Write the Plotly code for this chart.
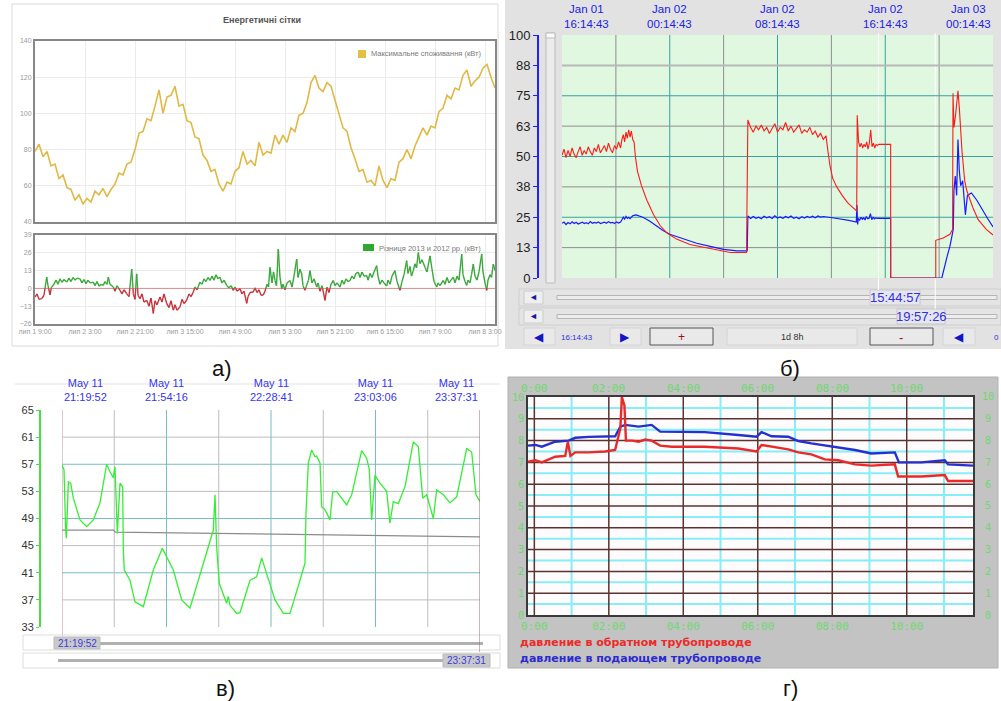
import numpy as np
import plotly.graph_objects as go

W, H = 1001, 701
def X(p): return p / W
def Y(p): return 1 - p / H

# ================= DATA =================
# --- panel а (upper): maximal consumption, time in hours from start
a_cons = [79,83,76,79,71,72,64,66,59,58,52,55,50,53,51,57,55,58.5,54,58,
          61,67,66,72,73,80,89,90,97,96,104,113,100,109,110,115,104,105,96,95,
          87,86,77,74,68,69,61,57,62,61,68,70,79,72,74,71,84,77,79,78,
          88,83,88,84,92,90,99,100,106,117,121,114,112,117,115,107,100,92,90,81,
          75,68,69,62,63,60,71,63,59,64,63,73,75,80,75,82,87,92,88,93,
          92,101,103,110,108,114,113,121,124,115,118,120,125,127,120,114]
a_span = 165.6
a_tick_hours = [0, 18, 36, 54, 72, 90, 108, 126, 144, 162]
a_tick_labels = ["лип 1 9:00", "лип 2 3:00", "лип 2 21:00", "лип 3 15:00", "лип 4 9:00",
                 "лип 5 3:00", "лип 5 21:00", "лип 6 15:00", "лип 7 9:00", "лип 8 3:00"]
a_top_ticks = [40, 60, 80, 100, 120, 140]
# --- panel а (lower): difference 2013 vs 2012 (hours, kW)
a_diff_t = [0,0.72,1.44,2.41,3.24,4.21,4.68,5.4,5.94,6.59,7.56,8.28,9,9.72,10.44,11.41,12.24,
            12.96,13.68,14.4,15.12,16.2,16.92,17.64,18.36,19.08,19.8,20.99,21.6,22.32,23.04,
            23.76,24.59,25.2,25.92,26.39,27,28.19,28.8,29.52,30.6,31.32,32.04,33.01,33.84,
            34.81,35.39,36,36.61,37.08,37.8,38.52,39.24,40.21,41.04,41.76,42.59,43.2,43.92,
            45,45.72,46.44,47.41,48.24,48.96,49.79,50.4,51.12,52.2,52.92,53.64,54.61,55.44,
            56.16,56.99,57.6,58.32,59.4,60.12,60.84,61.56,62.28,63,63.72,64.44,65.16,65.88,
            66.6,67.32,68.04,69.01,69.84,70.56,71.39,72,72.72,73.8,74.52,75.24,76.21,76.68,
            77.4,78.59,79.2,79.92,80.64,81.36,82.19,82.8,83.52,84.06,84.6,85.32,85.86,86.4,
            86.94,87.59,88.2,88.81,89.28,90,90.72,91.8,92.52,93.24,94.21,94.68,95.4,96.01,
            96.48,97.2,97.92,98.46,99,99.72,100.44,101.41,101.88,102.6,103.32,104.4,105.12,
            105.84,106.56,107.39,108,108.72,109.8,110.52,111.24,111.96,112.68,113.4,114.12,
            114.84,115.56,116.39,117,117.72,118.44,119.41,119.88,120.6,121.32,122.04,123.01,
            123.48,124.2,124.92,125.64,126.61,127.08,127.8,128.52,129.6,130.32,131.4,132.12,
            132.84,133.81,134.28,135,135.54,136.19,136.8,137.34,137.99,138.6,139.32,140.4,
            141.12,142.2,142.92,143.64,144.61,145.08,145.8,146.99,147.6,148.32,149.04,149.76,
            150.59,151.2,151.92,152.64,153.61,154.08,154.8,155.41,155.88,156.6,157.14,157.79,
            158.4,159.12,159.84,160.81,161.28,162,162.61,163.08,163.8,164.34,164.99,165.6]
a_diff_v = [-6.3,-4,-8,-7.5,-5,8.2,2,-4.8,1,2.2,6,3,7,4.5,6.5,4.6,7.5,
            5,8,6,7.5,7,4,6.5,3.5,6,4,4.6,2,5,1.5,
            3,2.2,5,3,8.2,3,1,-2,2,-1.4,-4,-1,-3.8,-6,
            14.2,-3.8,-8,10.6,-5,-7.5,-4,-10,-8.7,-13,-7,-18.3,-9,-12,
            -6.3,-10,-4,-11,-14,-9,-15.9,-12,-16,-13.5,-8,-11,-8.7,-4,
            -6,-2.6,1,-1,4.6,3,7,5,8,5.8,9,6,10,7,
            8.2,4,6,2.2,0.5,2,-1.4,1,-2,-0.2,-4,-2,-11,-6,
            -3,-2.6,0.5,-3,-1,-5,-4.8,-2,3,1,15.4,4,12,5.8,
            2,28.7,8,-0.2,3,-1,4,5.8,1,9,21.4,8,14,10.6,
            2,-1.4,3,6,13,4,7,1,4,-2,2,-8.7,1,
            -3,3,5.8,2,4,1,6,3,7,5,5.8,9,
            7,11,11.8,8,12,9,9.4,6,11,8,12,16.6,
            9,3,6,4,1.8,6,3,9,13,5,-1.4,5,
            10,20.2,11,16,9,13,18,15,26.2,18,21,15.4,
            12,23.8,14,5,1,4,2,5.8,3,8,4,6,
            8.2,4,9,6,25,10,5,2.2,6,4,10,17.8,
            9,6,12,25,12,4,-1.4,6,10,8,17.8,13]
a_diff_ticks = [-26, -13, 0, 13, 26, 39]

# --- panel б: hours from Jan 01 16:14:43 (32 h window)
b_red_seg1 = [50.5,53,49.5,52.5,50,53.5,51,49.5,52,54,50.5,52.5,51,54,52,50.5,53.5,52,55,51.5,
              53,54.5,52,55.5,53,51.5,54.5,53,56,53.5]
b_red_seg2 = [57,59,56,60,57.5,61,58,60.5,57]
b_red_decay_t = [5.35,5.45,5.6,5.9,6.3,6.8,7.3,7.8,8.5,9.5,10.5,11.5,12.5,13.7]
b_red_decay_v = [56,50,44,38,32,26,21.5,18.5,16,13.8,12.6,11.5,10.5,10.5]
b_red_seg3 = [65,62,60,62.5,61,63,60.5,62,59.5,61.5,63.5,60,62,61,64,60.5,62.5,60,61.5,63,
              59.5,61,60,62,59,60.5,58,59.5,57,58.5]
b_red_decay2_t = [19.75,19.9,20.1,20.4,20.8,21.2,21.6,21.88]
b_red_decay2_v = [52,46,41,37.5,34,31,29,27.5]
b_red_seg4 = [67,56,54,55.5,53.5,55,54,56,53,55.5,61,54,55.5,53.5,55,54.5]
b_red_tail_t = [23.5,24.4,24.4,27.75,27.75,28.3,28.8,29.0,29.03,29.1,29.2,29.4,29.5,29.7,29.9,
                30.05,30.5,30.9,31.5,32.0]
b_red_tail_v = [55,55,0,0,15.5,16.5,18,20,76,62,66,77,70,52,40,36,29,24,20,17.7]

b_blue_seg1 = [22.5,23,22,22.8,22.3,23.1,22.4,22.9,22.2,22.7,23,22.4,22.8,22.3,23.2,22.5,22.9,
               22.6,23.1,22.4,22.8,23,22.5,23.2,22.7,22.9,22.4,23.1,22.6,23]
b_blue_seg2 = [24,25,24.2,25.3,24.5,25,24.4,25.2,25.6]
b_blue_decay_t = [5.35,5.5,6.0,6.5,7.0,7.5,8.0,9.0,10.0,11.0,12.0,13.0,13.75]
b_blue_decay_v = [25.8,26,25,23.5,21.5,19.5,18,16,14.3,13,11.8,11.2,11.2]
b_blue_seg3 = [25.5,24.5,25.3,24.6,25,24.4,25.4,24.8,25.2,24.5,25.6,24.7,25.1,24.6,25.3,24.8,
               25.5,24.6,25,24.4,25.2,24.7,25.3,24.9,25.4,24.8,25.5,25.1,25.3,25]
b_blue_mid_t = [19.8,20.3,20.8,21.3,21.85,21.9,21.95]
b_blue_mid_v = [25,24.6,24.2,23.7,23,30,22]
b_blue_seg4 = [24.5,23.8,25,24.2,24.8,23.9,25.3,24.4,24.6,26.5,24,25,24.3,24.8,24.5,24.6]
b_blue_tail_t = [23.6,24.4,24.4,28.2,28.4,28.6,28.8,29.0,29.05,29.1,29.2,29.3,29.4,29.5,29.6,
                 29.75,29.95,30.1,30.4,30.8,31.2,31.6,32.0]
b_blue_tail_v = [24.5,24.5,0,0,5,9,13,18,20,36,42,34,57,44,38,40,26,34,35,32,28,24.5,21]
b_ytick_vals = [0, 12.5, 25, 37.5, 50, 62.5, 75, 87.5, 100]
b_ytick_text = ["0", "13", "25", "38", "50", "63", "75", "88", "100"]
b_top_hours = [0, 8, 16, 24, 32]
b_top_labels = ["Jan 01<br>16:14:43", "Jan 02<br>00:14:43", "Jan 02<br>08:14:43",
                "Jan 02<br>16:14:43", "Jan 03<br>00:14:43"]
b_cursor_hours = [23.5, 27.71]

# --- panel в: minutes from 21:19:52
c_t = [0,0.66,1.21,1.43,2.09,2.85,3.73,5.93,8.12,10.32,12.51,14.71,15.81,16.9,17.45,18.22,19.1,
       19.98,20.2,20.5,22.39,24.04,26.78,30.07,33.04,36.66,39.41,42.15,45.44,49.83,50.38,50.93,
       51.81,54.22,54.77,55.32,57.52,58.62,61.91,64.1,65.75,67.4,70.14,72.88,75.08,78.37,80.02,
       80.35,81.12,82.22,83.31,83.86,84.96,85.51,86.6,88.25,89.13,90.45,93.74,95.39,98.68,
       100.33,101.2,101.97,103.07,104.71,106.91,108.01,109.1,110.75,112.95,115.69,117.34,
       118.77,120.09,122.28,123.38,125.58,127.77,129.97,133.26,134.91,136.33,137.65]
c_v = [56.9,56.2,47.3,46.1,54.4,54.2,52,48.8,47.8,48.8,51.3,57,55.9,55,56.6,46.8,54.2,
       53.7,44.3,41.4,39.9,36.7,36,41.4,44.6,41.4,37,35.8,40.7,47.3,52.5,44.8,
       39.4,36.5,37.5,36.2,35,35.1,39.9,40.4,43.2,40.9,37,35,35,39.9,42.4,
       49.8,57.2,59.1,58.1,58.2,57.2,50.7,50.3,48.8,52.9,53,51,52.5,59,
       57.9,56.2,48.8,55.4,54.2,53,48.3,51.5,51.2,53.7,60.3,59.6,
       52,52.5,49,53.2,52.5,51.3,52.2,59.3,58.8,52.5,51.5]
c_ref_t = [0, 17, 17.5, 137.65]
c_ref_v = [47.3, 47.3, 47.0, 46.3]
c_span = 137.65
c_top_min = [0, 34.41, 68.83, 103.24, 137.65]
c_top_labels = ["May 11<br>21:19:52", "May 11<br>21:54:16", "May 11<br>22:28:41",
                "May 11<br>23:03:06", "May 11<br>23:37:31"]
c_yticks = [33, 37, 41, 45, 49, 53, 57, 61, 65]

# --- panel г: hours
d_red_t = [-0.17,0.03,0.2,0.56,0.83,0.9,0.97,1.1,1.46,1.9,2.17,2.31,2.35,2.42,2.46,2.62,2.8,
           2.98,3.15,3.38,3.69,4.58,5.48,5.97,6.1,6.37,6.82,7.09,7.44,7.8,8.16,8.61,9.05,
           9.68,9.77,10.39,11.02,11.11,11.78]
d_red_v = [7.03,7.1,7.0,7.26,7.3,7.95,7.3,7.46,7.46,7.5,7.57,8.56,10,9.6,8.0,8.0,7.95,8.05,
           8.0,7.77,7.72,7.72,7.64,7.5,7.8,7.72,7.6,7.46,7.37,7.14,7.1,6.91,6.85,6.91,6.35,
           6.35,6.42,6.15,6.15]
d_blue_t = [-0.17,0.03,0.2,0.56,0.92,1.1,1.46,2.17,2.31,2.44,2.8,3.15,3.38,4.58,5.48,5.97,6.1,
            6.37,6.82,7.09,7.44,7.8,8.16,8.61,9.05,9.68,9.79,10.39,11.02,11.11,11.78]
d_blue_v = [7.77,7.8,7.72,7.95,8.0,8.13,8.17,8.2,8.64,8.72,8.64,8.72,8.41,8.39,8.26,8.18,8.39,
            8.2,8.18,7.98,7.87,7.77,7.68,7.57,7.41,7.46,7.0,7.0,7.1,6.91,6.85]
d_xticks = [0, 2, 4, 6, 8, 10]
d_xlabels = ["0:00", "02:00", "04:00", "06:00", "08:00", "10:00"]
d_yticks = list(range(11))
d_range = [-0.17, 11.78]
d_legend = ["давление в обратном трубопроводе", "давление в подающем трубопроводе"]

# ================= FIGURE =================
fig = go.Figure()

def line_tr(x, y, color, width, xa, ya):
    fig.add_trace(go.Scatter(x=x, y=y, mode="lines", xaxis=xa, yaxis=ya, hoverinfo="skip",
                             showlegend=False, line=dict(color=color, width=width)))

def hlines(vals, x0, x1, color, width, xa, ya):
    xs, ys = [], []
    for v in vals:
        xs += [x0, x1, None]; ys += [v, v, None]
    line_tr(xs, ys, color, width, xa, ya)

def vlines(vals, y0, y1, color, width, xa, ya):
    xs, ys = [], []
    for v in vals:
        xs += [v, v, None]; ys += [y0, y1, None]
    line_tr(xs, ys, color, width, xa, ya)

# ---- panel а
a_time = np.linspace(0, a_span, len(a_cons))
line_tr(a_time, a_cons, "#e2b845", 1.6, "x", "y")
line_tr([0, a_span], [0, 0], "#d88a8a", 1, "x2", "y2")
gx, gy, rx, ry = [], [], [], []
for i in range(len(a_diff_t) - 1):
    t0, v0, t1, v1 = a_diff_t[i], a_diff_v[i], a_diff_t[i + 1], a_diff_v[i + 1]
    if (v0 >= 0) == (v1 >= 0):
        if v0 >= 0:
            gx += [t0, t1, None]; gy += [v0, v1, None]
        else:
            rx += [t0, t1, None]; ry += [v0, v1, None]
    else:
        tc = t0 + (0 - v0) * (t1 - t0) / (v1 - v0)
        if v0 >= 0:
            gx += [t0, tc, None]; gy += [v0, 0, None]; rx += [tc, t1, None]; ry += [0, v1, None]
        else:
            rx += [t0, tc, None]; ry += [v0, 0, None]; gx += [tc, t1, None]; gy += [0, v1, None]
line_tr(gx, gy, "#3aa83a", 1.4, "x2", "y2")
line_tr(rx, ry, "#c8323c", 1.4, "x2", "y2")

# ---- panel б
vlines([4, 12, 20, 28], 0, 100, "#8e8e8e", 1, "x3", "y3")
vlines([8, 16, 24], 0, 100, "#3aa0a0", 1, "x3", "y3")
hlines([12.5, 37.5, 62.5], 0, 32, "#8e8e8e", 1, "x3", "y3")
hlines([87.5], 0, 32, "#b8b8b8", 2, "x3", "y3")
hlines([25, 50, 75], 0, 32, "#3aa0a0", 1, "x3", "y3")

def seg_times(t0, t1, n):
    return list(np.linspace(t0, t1, n))

blue_t = (seg_times(0, 4.35, len(b_blue_seg1)) + seg_times(4.45, 5.25, len(b_blue_seg2)) +
          b_blue_decay_t + seg_times(13.8, 19.6, len(b_blue_seg3)) + b_blue_mid_t +
          seg_times(22.0, 23.5, len(b_blue_seg4)) + b_blue_tail_t)
blue_v = (b_blue_seg1 + b_blue_seg2 + b_blue_decay_v + b_blue_seg3 + b_blue_mid_v +
          b_blue_seg4 + b_blue_tail_v)
red_t = (seg_times(0, 4.35, len(b_red_seg1)) + seg_times(4.45, 5.25, len(b_red_seg2)) +
         b_red_decay_t + seg_times(13.8, 19.6, len(b_red_seg3)) + b_red_decay2_t +
         seg_times(21.92, 23.42, len(b_red_seg4)) + b_red_tail_t)
red_v = (b_red_seg1 + b_red_seg2 + b_red_decay_v + b_red_seg3 + b_red_decay2_v +
         b_red_seg4 + b_red_tail_v)
line_tr(blue_t, blue_v, "#1a1aff", 1.2, "x3", "y3")
line_tr(red_t, red_v, "#ff1a1a", 1.1, "x3", "y3")

# ---- panel в
hlines([37, 45, 53, 61], 0, c_span, "#bdbdbd", 1, "x4", "y4")
hlines([41, 49, 57], 0, c_span, "#78bcc4", 1, "x4", "y4")
q = c_span / 8
vlines([q, 3 * q, 5 * q, 7 * q], 33, 65, "#bdbdbd", 1, "x4", "y4")
vlines([2 * q, 4 * q, 6 * q], 33, 65, "#78bcc4", 1, "x4", "y4")
line_tr(c_ref_t, c_ref_v, "#8c8c8c", 1.2, "x4", "y4")
line_tr(c_t, c_v, "#33ee33", 1.3, "x4", "y4")

# ---- panel г
hlines([k + 0.5 for k in range(10)], d_range[0], d_range[1], "#86eef6", 2, "x5", "y5")
vlines([1, 3, 5, 7, 9, 11], 0, 10, "#86eef6", 2, "x5", "y5")
hlines(list(range(1, 10)), d_range[0], d_range[1], "#5c3232", 1.5, "x5", "y5")
vlines([0, 2, 4, 6, 8, 10], 0, 10, "#5c3232", 1.5, "x5", "y5")
line_tr(d_blue_t, d_blue_v, "#2430d0", 2.4, "x5", "y5")
line_tr(d_red_t, d_red_v, "#ea2a2a", 2.4, "x5", "y5")

# ================= SHAPES =================
shapes = []
def rect(x0, y0, x1, y1, fill, line="rgba(0,0,0,0)", lw=1, layer="below"):
    shapes.append(dict(type="rect", xref="paper", yref="paper", x0=X(x0), x1=X(x1),
                       y0=Y(y1), y1=Y(y0), fillcolor=fill, line=dict(color=line, width=lw),
                       layer=layer))

# panel а frame
rect(12, 4, 498, 346, "white", "#dadada", 1)
rect(358, 50, 366, 58, "#e6bf48", layer="above")
rect(363, 244, 374, 251, "#2fa82f", layer="above")
# panel б
rect(505, 0, 1001, 349, "#e2e2e2")
rect(562, 35, 993, 278, "#e0f7e0")
rect(546, 33, 555, 283, "#ececec", "#bdbdbd", 1)
rect(546, 33, 555, 38, "#fafafa", "#bdbdbd", 1)
for yy0, yy1 in [(289, 306), (308, 325)]:
    rect(519, yy0, 1001, yy1, "#e4e4e4", "#cfcfcf", 1)
    rect(524, yy0 + 2, 543, yy1 - 2, "#efefef", "#cccccc", 1)
    rect(557, (yy0 + yy1) / 2 - 2, 997, (yy0 + yy1) / 2 + 2, "#ededed", "#b5b5b5", 1)
rect(870, 290, 920, 305, "#e6e6ee", "#c8c8c8", 1)
rect(897, 309, 945, 324, "#e6e6ee", "#c8c8c8", 1)
for bx0, bx1, ln in [(524, 555, "#d4d4d4"), (610, 641, "#d4d4d4"), (650, 713, "#555555"),
                     (727, 857, "#d4d4d4"), (870, 933, "#555555"), (943, 975, "#d4d4d4")]:
    rect(bx0, 328, bx1, 345, "#e9e9e9", ln, 1)
# panel в
shapes.append(dict(type="line", xref="paper", yref="paper", x0=X(15), x1=X(500), y0=Y(384),
                   y1=Y(384), line=dict(color="#e2e2e2", width=1), layer="below"))
rect(23, 635, 500, 650, "white", "#dcdcdc", 1)
rect(100, 642, 483, 645, "#b0b0b0")
rect(54, 637, 100, 649, "#c9c9c9", "#bbbbbb", 1)
rect(23, 653, 500, 668, "white", "#dcdcdc", 1)
rect(58, 659, 443, 662, "#b0b0b0")
rect(443, 654, 490, 667, "#c9c9c9", "#bbbbbb", 1)
shapes.append(dict(type="line", xref="x4", yref="paper", x0=0, x1=0, y0=Y(636), y1=Y(410),
                   line=dict(color="#d8b4b4", width=1.5), layer="below"))
shapes.append(dict(type="line", xref="x4", yref="paper", x0=c_span, x1=c_span, y0=Y(652),
                   y1=Y(410), line=dict(color="#a06868", width=1), layer="above"))
# panel г
rect(508, 377, 998, 668, "#c3c3c3", "#b0b0b0", 1)
rect(528, 397, 973, 615, "#fdfbfb")
# cursors panel б
shapes.append(dict(type="line", xref="x3", yref="paper", x0=b_cursor_hours[0], x1=b_cursor_hours[0],
                   y0=Y(290), y1=Y(33), line=dict(color="#ffffff", width=1), layer="below"))
shapes.append(dict(type="line", xref="x3", yref="paper", x0=b_cursor_hours[1], x1=b_cursor_hours[1],
                   y0=Y(309), y1=Y(33), line=dict(color="#ffffff", width=1), layer="below"))

# ================= ANNOTATIONS =================
anns = []
def ann(text, x, y, size=11, color="#000", xanchor="center", yanchor="middle",
        family="Liberation Sans", xref="paper", yref="paper"):
    anns.append(dict(text=text, x=x, y=y, xref=xref, yref=yref, showarrow=False,
                     xanchor=xanchor, yanchor=yanchor,
                     font=dict(size=size, color=color, family=family)))

for lab, lx, ly in [("а)", 222, 368), ("б)", 790, 368), ("в)", 225, 688), ("г)", 790, 688)]:
    ann(lab, X(lx), Y(ly), size=22, color="#111")

ann("<b>Енергетичні сітки</b>", X(262), Y(20), size=9, color="#555")
ann("Максимальне споживання (кВт)", X(369), Y(54), size=7.5, color="#7a7a7a", xanchor="left")
ann("Різниця 2013 и 2012 рр. (кВт)", X(377), Y(248), size=7.5, color="#7a7a7a", xanchor="left")

for i, (h, lab) in enumerate(zip(b_top_hours, b_top_labels)):
    xa = "left" if i == 0 else ("right" if i == len(b_top_hours) - 1 else "center")
    ann(lab, h, Y(32), size=11.5, color="#2020e8", xanchor=xa, yanchor="bottom", xref="x3")
ann("◄", X(533), Y(297), size=9, color="#1a1aa0")
ann("◄", X(533), Y(316), size=9, color="#1a1aa0")
ann("15:44:57", X(895), Y(297.5), size=13, color="#3030e0")
ann("19:57:26", X(921), Y(316.5), size=13, color="#3030e0")
ann("◀", X(539), Y(337), size=12, color="#1414c8")
ann("16:14:43", X(577), Y(337), size=8, color="#3030e0")
ann("▶", X(625), Y(337), size=12, color="#1414c8")
ann("+", X(681), Y(337), size=12, color="#a01010")
ann("1d 8h", X(792), Y(337), size=9, color="#333")
ann("-", X(901), Y(337), size=13, color="#a01010")
ann("◀", X(959), Y(337), size=12, color="#1414c8")
ann("0", X(996), Y(337), size=8, color="#3030e0")

for i, (m, lab) in enumerate(zip(c_top_min, c_top_labels)):
    xa = "left" if i == 0 else ("right" if i == len(c_top_min) - 1 else "center")
    ann(lab, m, Y(405), size=11, color="#3434f0", xanchor=xa, yanchor="bottom", xref="x4")
ann("21:19:52", X(77), Y(643), size=10, color="#3a3ae0")
ann("23:37:31", X(466.5), Y(660.5), size=10, color="#3a3ae0")

for h, lab in zip(d_xticks, d_xlabels):
    ann(lab, h, Y(388), size=11, color="#6fd86f", family="DejaVu Sans Mono", xref="x5")
for v in d_yticks:
    ann(str(v), X(988), v, size=10, color="#6fd86f", family="DejaVu Sans Mono", yref="y5")
ann("<b>" + d_legend[0] + "</b>", X(518), Y(642), size=11, color="#ec2a2a",
    xanchor="left", family="DejaVu Sans")
ann("<b>" + d_legend[1] + "</b>", X(518), Y(658), size=11, color="#2a2ad0",
    xanchor="left", family="DejaVu Sans")

# ================= LAYOUT =================
a_ax = dict(showgrid=True, gridcolor="#ebebeb", showline=True, linecolor="#878787", linewidth=2,
            mirror=True, zeroline=False, ticks="", automargin=False,
            tickfont=dict(size=7, color="#9a9a9a"))
fig.update_layout(
    width=W, height=H, autosize=False,
    margin=dict(l=0, r=0, t=0, b=0, pad=0, autoexpand=False),
    paper_bgcolor="white", plot_bgcolor="rgba(0,0,0,0)", showlegend=False,
    font=dict(family="Liberation Sans"),
    xaxis=dict(domain=[X(35), X(495)], range=[0, a_span], anchor="y", tickvals=a_tick_hours,
               showticklabels=False, **a_ax),
    yaxis=dict(domain=[Y(222), Y(41)], range=[40, 140], anchor="x", tickvals=a_top_ticks, **a_ax),
    xaxis2=dict(domain=[X(35), X(495)], range=[0, a_span], anchor="y2", tickvals=a_tick_hours,
                ticktext=a_tick_labels, **a_ax),
    yaxis2=dict(domain=[Y(324), Y(235)], range=[-26, 39], anchor="x2", tickvals=a_diff_ticks, **a_ax),
    xaxis3=dict(domain=[X(562), X(993)], range=[0, 32], anchor="y3", visible=False, automargin=False),
    yaxis3=dict(domain=[Y(278), Y(35)], range=[0, 100], anchor="free", position=X(538),
                tickvals=b_ytick_vals, ticktext=b_ytick_text, ticks="outside", ticklen=4,
                tickcolor="#1f1fff", showline=True, linecolor="#1f1fff", linewidth=2,
                showgrid=False, zeroline=False, automargin=False,
                tickfont=dict(family="Liberation Sans", size=13, color="#222")),
    xaxis4=dict(domain=[X(62), X(480)], range=[0, c_span], anchor="y4", visible=False, automargin=False),
    yaxis4=dict(domain=[Y(627), Y(410)], range=[33, 65], anchor="free", position=X(40),
                tickvals=c_yticks, ticks="outside", ticklen=3, tickcolor="#44e044",
                showline=True, linecolor="#44e044", linewidth=2, showgrid=False, zeroline=False,
                automargin=False,
                tickfont=dict(family="Liberation Sans", size=11, color="#333")),
    xaxis5=dict(domain=[X(528), X(973)], range=d_range, anchor="y5", tickvals=d_xticks,
                ticktext=d_xlabels, showgrid=False, showline=True, linecolor="#3a3a3a",
                linewidth=2, mirror=True, zeroline=False, ticks="", automargin=False,
                tickfont=dict(family="DejaVu Sans Mono", size=11, color="#6fd86f")),
    yaxis5=dict(domain=[Y(615), Y(397)], range=[0, 10], anchor="x5", tickvals=d_yticks,
                showgrid=False, showline=True, linecolor="#3a3a3a", linewidth=2, mirror=True,
                zeroline=False, ticks="", automargin=False,
                tickfont=dict(family="DejaVu Sans Mono", size=10, color="#6fd86f")),
    shapes=shapes, annotations=anns,
)

fig.write_html("out.html", config={"displayModeBar": False, "staticPlot": True},
               post_script="document.body.style.margin='0px';document.body.style.overflow='hidden';")
